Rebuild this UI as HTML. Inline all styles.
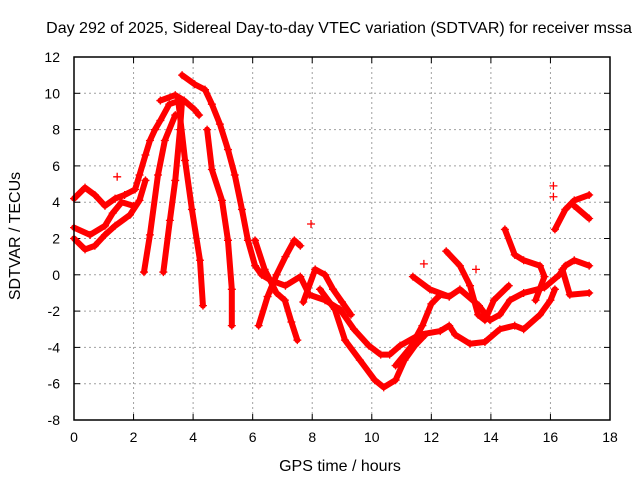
<!DOCTYPE html>
<html><head><meta charset="utf-8"><style>
body{margin:0;background:#fff;}
svg{display:block;font-family:"Liberation Sans",sans-serif;}
</style></head><body>
<svg id="c" width="640" height="480"></svg>
<script>
const xTicks=[0,2,4,6,8,10,12,14,16,18];
const yTicks=[-8,-6,-4,-2,0,2,4,6,8,10,12];
const sUpperLeft=[[0,4.2],[0.37,4.8],[0.7,4.4],[1.04,3.8],[1.38,4.2],[1.7,4.4],[2.05,4.7],[2.2,5.5],[2.4,6.6],[2.55,7.4],[2.72,8],[2.9,8.5],[3.2,9.4],[3.56,9.6]];
const sLowerLeft=[[0,2.0],[0.37,1.4],[0.7,1.6],[1.04,2.2],[1.38,2.7],[1.88,3.3],[2.2,4.1],[2.4,5.2]];
const sMidLeft=[[0,2.6],[0.54,2.2],[1.04,2.7],[1.3,3.4],[1.6,4.0],[2.0,3.8]];
const sPeak2=[[2.9,9.6],[3.4,9.9],[3.7,9.6],[4.05,9.1],[4.2,8.8]];
const sMain=[[3.63,11],[4.05,10.5],[4.4,10.2],[4.63,9.4],[4.9,8.3],[5.17,6.9],[5.4,5.5],[5.64,3.6],[5.84,1.9],[6.08,0.5],[6.3,0],[6.6,-0.3],[7.1,-0.6],[7.6,-0.1],[7.9,-1.1],[8.43,-1.4],[8.93,-1.9],[9.4,-3],[9.9,-3.9],[10.3,-4.4],[10.6,-4.4],[10.95,-3.9],[11.6,-3.3],[12.3,-3.1],[12.6,-2.8],[12.8,-3.3],[13.3,-3.8],[13.8,-3.7],[14.3,-3.0],[14.8,-2.8],[15.1,-3.0],[15.65,-2.2],[16.0,-1.4],[16.15,-0.8]];
const sValley=[[8.26,-0.8],[8.76,-1.9],[9.1,-3.6],[9.6,-4.7],[10.1,-5.8],[10.4,-6.2],[10.8,-5.8],[11.1,-4.7],[11.45,-3.9],[11.8,-3.3]];
const sS1=[[2.35,0.15],[2.55,2.2],[2.82,5.5],[3.05,7.4],[3.4,8.8]];
const sS2=[[3.0,0.15],[3.22,3.0],[3.4,5.2],[3.56,8],[3.63,9.6]];
const sS3=[[3.5,9.6],[3.73,6.3],[3.96,3.6],[4.23,0.8],[4.33,-1.7]];
const sS4=[[4.47,8],[4.63,5.8],[4.97,4.1],[5.17,1.9],[5.3,-0.8],[5.3,-2.8]];
const sCrossDown=[[6.08,1.9],[6.4,0.3],[6.8,-1.0],[7.08,-1.4],[7.3,-2.6],[7.5,-3.6]];
const sCrossUp=[[6.2,-2.8],[6.5,-1.2],[6.8,0],[7.1,1.0],[7.4,1.9],[7.6,1.6]];
const sHump=[[7.7,-1.5],[8.1,0.3],[8.43,0],[8.7,-0.8],[9.0,-1.5],[9.3,-2.2]];
const sRise=[[10.8,-5.0],[11.3,-4.0],[11.7,-2.8],[12.0,-1.6],[12.3,-1.1],[12.6,-1.2]];
const sR1=[[11.38,-0.1],[11.95,-0.8],[12.6,-1.2],[12.96,-0.8],[13.6,-1.7],[13.97,-2.5],[14.3,-2.2],[14.64,-1.4],[15.1,-1.0],[15.8,-0.7],[16.3,0],[16.5,0.5],[16.8,0.8],[17.3,0.5]];
const sR2=[[12.5,1.3],[12.96,0.5],[13.3,-0.6],[13.57,-2.2],[13.8,-2.5],[14.1,-1.4],[14.6,-0.6]];
const sR3=[[14.47,2.5],[14.8,1.1],[15.1,0.8],[15.65,0.5],[15.8,-0.1],[15.5,-1.4]];
const sR5=[[16.15,2.5],[16.5,3.6],[16.8,4.1],[17.3,4.4]];
const sR5b=[[16.8,3.8],[17.3,3.1]];
const sR6=[[16.4,0.3],[16.65,-1.1],[17.3,-1.0]];
const sOutliers=[[16.1,4.9],[11.75,0.6],[13.5,0.3],[7.96,2.8],[1.45,5.4],[16.1,4.3]];
const allSeries=[sUpperLeft,sLowerLeft,sMidLeft,sPeak2,sMain,sValley,sS1,sS2,sS3,sS4,sCrossDown,sCrossUp,sHump,sRise,sR1,sR2,sR3,sR5,sR5b,sR6];

const L=74,R=610,T=57,B=420;
const X=h=>L+(h-0)/(18-0)*(R-L);
const Y=v=>B-(v+8)/(20)*(B-T);
const svg=document.getElementById('c');
const NS='http://www.w3.org/2000/svg';
function mk(tag,attrs,parent){const e=document.createElementNS(NS,tag);for(const k in attrs)e.setAttribute(k,attrs[k]);(parent||svg).appendChild(e);return e;}

const grid=mk('g',{});


xTicks.forEach(t=>{
  if(t>0&&t<18){const l=mk('line',{x1:X(t),x2:X(t),y1:T,y2:B,stroke:'#a0a0a0','stroke-dasharray':'2,3','stroke-width':1},grid);
  
  }
  const tk=mk('line',{x1:X(t),x2:X(t),y1:B,y2:B-6,stroke:'#000'});
  
  
  const tk2=mk('line',{x1:X(t),x2:X(t),y1:T,y2:T+6,stroke:'#000'});
  
  
  const tx=mk('text',{x:X(t),y:B+22,'text-anchor':'middle','font-size':14,fill:'#000'});
  tx.textContent=t;
  
  
});
yTicks.forEach(t=>{
  if(t>-8&&t<12){const l=mk('line',{x1:L,x2:R,y1:Y(t),y2:Y(t),stroke:'#a0a0a0','stroke-dasharray':'2,3','stroke-width':1},grid);
  
  }
  const tk=mk('line',{x1:L,x2:L+6,y1:Y(t),y2:Y(t),stroke:'#000'});
  
  
  const tk2=mk('line',{x1:R,x2:R-6,y1:Y(t),y2:Y(t),stroke:'#000'});
  
  
  const tx=mk('text',{x:L-14,y:Y(t)+5,'text-anchor':'end','font-size':14,fill:'#000'});
  tx.textContent=t;
  
  
});

const data=mk('g',{});


function plus(h,v){
  const x=X(h),y=Y(v);
  const p=mk('path',{d:`M${x-4} ${y}H${x+4}M${x} ${y-4}V${y+4}`,stroke:'#f00','stroke-width':1.3},data);
  
  
}
allSeries.forEach(s=>{
  const pl=mk('polyline',{points:s.map(p=>X(p[0])+','+Y(p[1])).join(' '),fill:'none',stroke:'#f00','stroke-width':6,'stroke-linejoin':'round','stroke-linecap':'round'},data);
  
  
  s.forEach(p=>plus(p[0],p[1]));
});
sOutliers.forEach(p=>plus(p[0],p[1]));

const frame=mk('rect',{x:L,y:T,width:R-L,height:B-T,fill:'none',stroke:'#000','stroke-width':1.5});



const title=mk('text',{x:339,y:33,'text-anchor':'middle','font-size':16,fill:'#000'});
title.textContent='Day 292 of 2025, Sidereal Day-to-day VTEC variation (SDTVAR) for receiver mssa';


const xt=mk('text',{x:340,y:471,'text-anchor':'middle','font-size':16,fill:'#000'});
xt.textContent='GPS time / hours';


const yt=mk('text',{x:0,y:0,'text-anchor':'middle','font-size':16,fill:'#000',transform:'translate(20,236) rotate(-90)'});
yt.textContent='SDTVAR / TECUs';


</script>
</body></html>
